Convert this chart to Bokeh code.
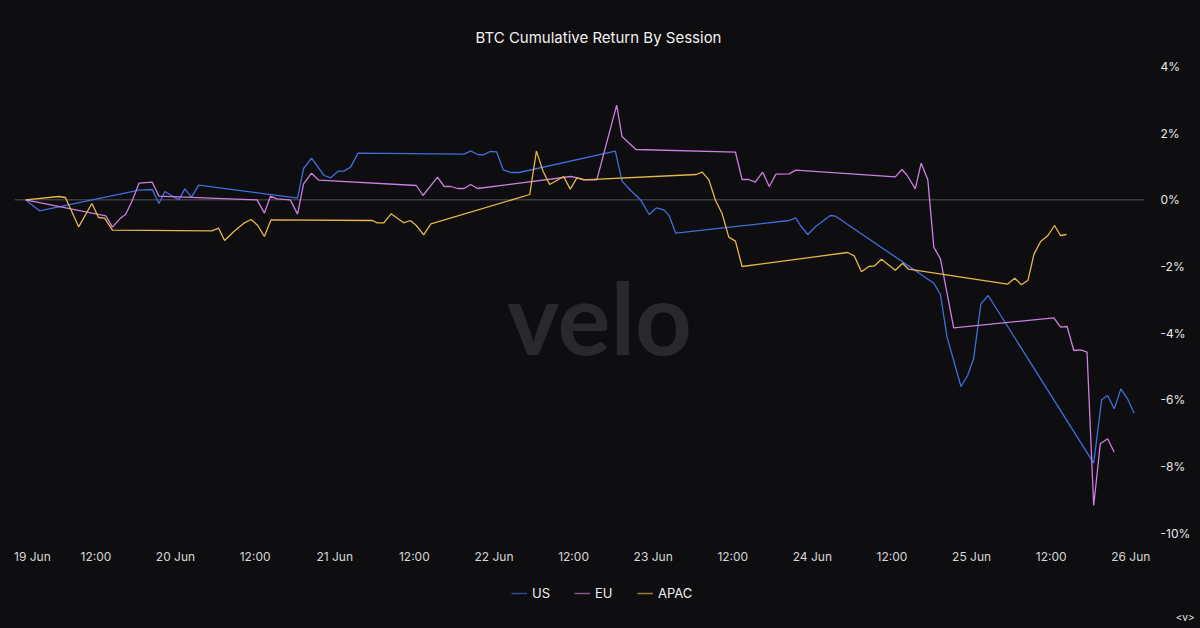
from bokeh.plotting import figure
from bokeh.layouts import column
from bokeh.models import Range1d, FixedTicker, PrintfTickFormatter, Span, Legend, LegendItem, Label, Title
from bokeh.embed import file_html
from bokeh.resources import INLINE

TITLE = "BTC Cumulative Return By Session"
SERIES = ["US", "EU", "APAC"]

# x values: hours since 19 Jun 00:00
x_ticks = [0, 12, 24, 36, 48, 60, 72, 84, 96, 108, 120, 132, 144, 156, 168]
x_tick_labels = ["19 Jun", "12:00", "20 Jun", "12:00", "21 Jun", "12:00", "22 Jun", "12:00",
                 "23 Jun", "12:00", "24 Jun", "12:00", "25 Jun", "12:00", "26 Jun"]
y_ticks = [-10, -8, -6, -4, -2, 0, 2, 4]

us_hours = [1.4, 3.5, 18.5, 20.5, 21.5, 22.4, 24.5, 25.4, 26.4, 27.5,
            42.4, 43.3, 44.5, 46.4, 47.4, 48.5, 49.4, 50.4, 51.5,
            67.5, 68.5, 69.5, 70.4, 71.4, 72.4, 73.4, 74.5, 75.8,
            90.3, 91.3, 92.6, 94.1, 95.4, 96.5, 97.6, 98.4, 99.4,
            116.5, 117.5, 118.2, 119.3, 120.5, 122.7, 123.5,
            138.3, 139.3, 140.3, 142.4, 143.4, 144.3, 145.4, 146.5,
            162.4, 163.6, 164.5, 165.5, 166.5, 167.5, 168.5]
us_ret = [0, -0.33, 0.29, 0.31, -0.11, 0.25, 0, 0.33, 0.08, 0.44,
          0.05, 0.94, 1.25, 0.73, 0.66, 0.86, 0.86, 0.98, 1.40,
          1.37, 1.47, 1.36, 1.35, 1.45, 1.44, 0.90, 0.82, 0.82,
          1.46, 0.56, 0.28, 0.0, -0.44, -0.24, -0.30, -0.47, -1.0,
          -0.62, -0.54, -0.77, -1.04, -0.80, -0.47, -0.49,
          -2.5, -2.84, -4.12, -5.6, -5.27, -4.77, -3.12, -2.87,
          -7.9, -6.0, -5.87, -6.27, -5.67, -5.97, -6.4]

eu_hours = [1.4, 13.5, 14.5, 15.7, 16.5, 17.5, 18.5, 20.5, 21.5,
            36.3, 37.4, 38.3, 39.3, 41.3, 42.4, 43.3, 44.5, 45.6,
            60.3, 61.3, 63.5, 64.5, 65.5, 66.5, 67.5, 68.5, 69.5,
            83.6, 84.6, 85.8, 87.5, 90.5, 91.3, 93.4,
            108.4, 109.4, 110.4, 111.4, 112.5, 113.5, 114.5, 116.5, 117.5,
            132.5, 133.5, 134.3, 135.5, 136.4, 137.4, 138.3, 139.3, 141.3,
            156.4, 157.4, 158.4, 159.4, 160.4, 161.4, 162.4, 163.4, 164.5, 165.5]
eu_ret = [0, -0.48, -0.82, -0.55, -0.43, -0.01, 0.5, 0.53, 0.11,
          0.0, -0.4, 0.11, 0.03, 0.0, -0.43, 0.48, 0.8, 0.59,
          0.43, 0.13, 0.68, 0.4, 0.4, 0.34, 0.34, 0.46, 0.34,
          0.7, 0.66, 0.6, 0.6, 2.84, 1.9, 1.51,
          1.43, 0.61, 0.61, 0.53, 0.83, 0.4, 0.77, 0.78, 0.89,
          0.69, 0.91, 0.73, 0.33, 1.1, 0.6, -1.42, -1.77, -3.84,
          -3.54, -3.82, -3.8, -4.52, -4.5, -4.57, -9.17, -7.32, -7.17, -7.57]

apac_hours = [1.4, 6.4, 7.4, 9.4, 11.4, 12.4, 13.3, 14.5,
              29.5, 30.5, 31.4, 32.8, 34.3, 35.4, 36.4, 37.4, 38.4,
              53.7, 54.4, 55.4, 56.5, 58.4, 59.4, 60.3, 61.4, 62.5,
              77.4, 78.4, 79.4, 80.4, 82.5, 83.5, 84.5, 85.5,
              102.5, 103.4, 104.4, 105.4, 106.4, 107.4, 108.4, 109.4,
              125.3, 126.3, 127.4, 128.5, 129.4, 130.4, 132.5, 133.6, 134.5,
              149.4, 150.5, 151.5, 152.5, 153.4, 154.4, 155.5, 156.5, 157.4, 158.3]
apac_ret = [0, 0.1, 0.07, -0.81, -0.11, -0.53, -0.55, -0.91,
            -0.93, -0.85, -1.22, -0.95, -0.7, -0.59, -0.77, -1.1, -0.6,
            -0.62, -0.69, -0.69, -0.42, -0.69, -0.62, -0.77, -1.05, -0.72,
            0.16, 1.46, 0.86, 0.46, 0.7, 0.32, 0.66, 0.6,
            0.76, 0.83, 0.6, -0.02, -0.42, -1.12, -1.24, -2.0,
            -1.58, -1.68, -2.16, -2.0, -1.98, -1.78, -2.11, -1.9, -2.08,
            -2.53, -2.35, -2.55, -2.41, -1.63, -1.25, -1.07, -0.77, -1.07, -1.04]

BG = "#0e0d10"
COLORS = ["#3f6fdc", "#cc7fe0", "#e6b84a"]
FONT = "Inter"

p = figure(width=1200, height=568, output_backend="svg", toolbar_location=None,
           x_range=Range1d(-0.27, 170.06), y_range=Range1d(-10.19, 4.18),
           y_axis_location="right",
           min_border_left=14, min_border_right=56, min_border_top=60, min_border_bottom=29,
           background_fill_color=BG, border_fill_color=BG, outline_line_color=None)
p.grid.visible = False

p.title.text = TITLE
p.title.align = "left"
p.title.offset = 461
p.title.text_color = "#f2f2f2"
p.title.text_font = FONT
p.title.text_font_style = "normal"
p.title.text_font_size = "15px"
p.title.standoff = 28

# watermark
p.add_layout(Label(x=87.9, y=-3.5, text="velo", text_align="center", text_baseline="alphabetic",
                   text_font="Lato", text_font_style="bold", text_font_size="99px",
                   text_color="#29282b", level="underlay"))

p.add_layout(Span(location=0, dimension="width", line_color="#555458", line_width=1, level="underlay"))

for hrs, vals, col in zip([us_hours, eu_hours, apac_hours], [us_ret, eu_ret, apac_ret], COLORS):
    p.line(hrs, vals, line_color=col, line_width=1.3)

xa = p.xaxis[0]
xa.ticker = FixedTicker(ticks=x_ticks)
overrides = {t: lab for t, lab in zip(x_ticks, x_tick_labels)}
overrides[x_ticks[0]] = "\u00a0" * 4 + x_tick_labels[0]
xa.major_label_overrides = overrides
xa.axis_line_color = None
xa.major_tick_line_color = None
xa.minor_tick_line_color = None
xa.major_tick_out = 0
xa.major_tick_in = 0
xa.major_label_text_color = "#d8d8d8"
xa.major_label_text_font = FONT
xa.major_label_text_font_size = "12px"
xa.major_label_standoff = 9

ya = p.yaxis[0]
ya.ticker = FixedTicker(ticks=y_ticks)
ya.formatter = PrintfTickFormatter(format="%d%%")
ya.axis_line_color = None
ya.major_tick_line_color = None
ya.minor_tick_line_color = None
ya.major_tick_out = 0
ya.major_tick_in = 0
ya.major_label_text_color = "#e8e8e8"
ya.major_label_text_font = FONT
ya.major_label_text_font_size = "12px"
ya.major_label_standoff = 16

# footer with legend and the small "<v>" mark
footer = figure(width=1200, height=60, output_backend="svg", toolbar_location=None,
                x_axis_location=None, y_axis_location=None,
                x_range=Range1d(0, 1200), y_range=Range1d(0, 60), min_border=0,
                background_fill_color=BG, border_fill_color=BG, outline_line_color=None)
footer.grid.visible = False
items = []
for name, col in zip(SERIES, COLORS):
    r = footer.line(x=[float("nan")], y=[float("nan")], line_color=col, line_width=1.5, line_alpha=0.65)
    items.append(LegendItem(label=name, renderers=[r]))
legend = Legend(items=items, orientation="horizontal", location=(497, 3),
                background_fill_alpha=0, border_line_color=None,
                label_text_color="#eeeeee", label_text_font=FONT, label_text_font_size="13px",
                glyph_width=16, glyph_height=14, label_standoff=5, spacing=22,
                padding=0, margin=0)
footer.add_layout(legend)
footer.add_layout(Title(text="<v>", align="right", offset=-50, standoff=10, vertical_align="middle",
                        text_font=FONT, text_font_size="10px", text_font_style="normal",
                        text_color="#e8e8e8"), "below")

layout = column(p, footer, spacing=0)
html = file_html(layout, INLINE)
html = html.replace("<head>", "<head><style>html,body{background:%s;}</style>" % BG, 1)
open("out.html", "w").write(html)
